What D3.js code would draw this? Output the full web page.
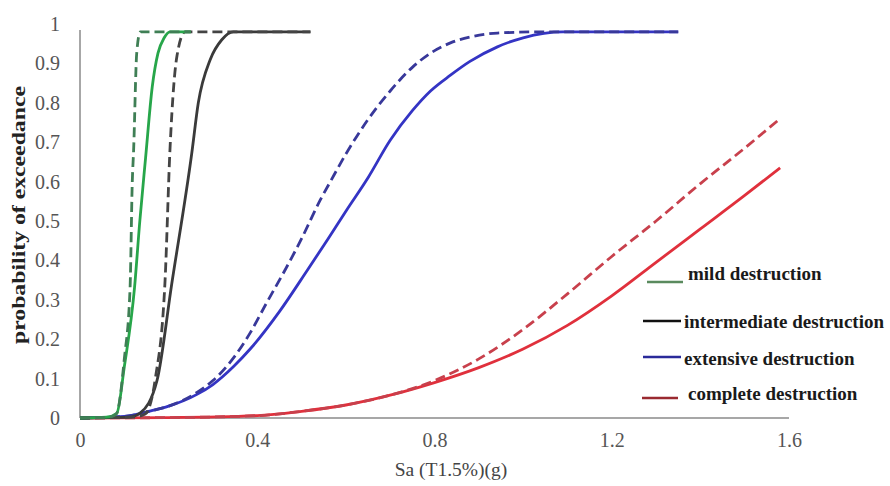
<!DOCTYPE html>
<html>
<head>
<meta charset="utf-8">
<script src="https://cdn.jsdelivr.net/npm/d3@7"></script>
<style>
html,body{margin:0;padding:0;background:#fff;}
svg{display:block;}
</style>
</head>
<body>
<svg id="chart" width="890" height="486"></svg>
<script>
// ---- data ----
const xTickValues = [0, 0.4, 0.8, 1.2, 1.6];
const xTickLabels = ["0", "0.4", "0.8", "1.2", "1.6"];
const yTickValues = [0, 0.1, 0.2, 0.3, 0.4, 0.5, 0.6, 0.7, 0.8, 0.9, 1];
const yTickLabels = ["0", "0.1", "0.2", "0.3", "0.4", "0.5", "0.6", "0.7", "0.8", "0.9", "1"];

const mildDashedX = [0, 0.06, 0.075, 0.083, 0.1, 0.113, 0.118, 0.121, 0.128, 0.136, 0.25];
const mildDashedP = [0, 0.002, 0.005, 0.012, 0.15, 0.33, 0.6, 0.68, 0.926, 0.98, 0.98];
const mildSolidX = [0, 0.06, 0.083, 0.1, 0.123, 0.135, 0.148, 0.163, 0.176, 0.19, 0.203, 0.25];
const mildSolidP = [0, 0.002, 0.012, 0.13, 0.33, 0.5, 0.66, 0.84, 0.926, 0.965, 0.98, 0.98];

const interDashedX = [0, 0.12, 0.147, 0.17, 0.192, 0.203, 0.212, 0.219, 0.237, 0.52];
const interDashedP = [0, 0.002, 0.01, 0.1, 0.35, 0.68, 0.85, 0.92, 0.98, 0.98];
const interSolidX = [0, 0.11, 0.136, 0.174, 0.207, 0.252, 0.267, 0.294, 0.32, 0.346, 0.52];
const interSolidP = [0, 0.002, 0.013, 0.096, 0.34, 0.67, 0.8, 0.91, 0.96, 0.98, 0.98];

const extDashedX = [0, 0.1, 0.16, 0.2, 0.264, 0.3, 0.346, 0.384, 0.42, 0.46, 0.5, 0.542, 0.565, 0.6, 0.649, 0.7, 0.75, 0.791, 0.836, 0.88, 0.942, 1.04, 1.35];
const extDashedP = [0, 0.004, 0.018, 0.03, 0.065, 0.095, 0.152, 0.216, 0.29, 0.37, 0.455, 0.553, 0.6, 0.67, 0.756, 0.83, 0.89, 0.926, 0.952, 0.967, 0.977, 0.98, 0.98];
const extSolidX = [0, 0.1, 0.16, 0.2, 0.264, 0.3, 0.346, 0.384, 0.45, 0.513, 0.56, 0.6, 0.65, 0.7, 0.75, 0.791, 0.836, 0.88, 0.942, 1.0, 1.09, 1.35];
const extSolidP = [0, 0.004, 0.018, 0.03, 0.06, 0.085, 0.13, 0.175, 0.27, 0.375, 0.455, 0.525, 0.61, 0.705, 0.78, 0.83, 0.87, 0.905, 0.942, 0.965, 0.98, 0.98];

const compX = [0, 0.2, 0.4, 0.5, 0.6, 0.7, 0.8, 0.9, 1.0, 1.1, 1.2, 1.3, 1.4, 1.5, 1.58];
const compDashedP = [0, 0.001, 0.006, 0.017, 0.033, 0.058, 0.095, 0.15, 0.225, 0.315, 0.41, 0.50, 0.595, 0.685, 0.76];
const compSolidP = [0, 0.001, 0.006, 0.017, 0.033, 0.058, 0.09, 0.128, 0.175, 0.235, 0.31, 0.395, 0.48, 0.565, 0.635];

const legendLabels = ["mild destruction", "intermediate destruction", "extensive destruction", "complete destruction"];
const legendColors = ["#5a8a5e", "#111111", "#2a2a9a", "#9a2a30"];

const xTitle = "Sa (T1.5%)(g)";
const yTitle = "probability of exceedance";

// ---- drawing ----
const svg = d3.select("#chart");
const x = d3.scaleLinear().domain([0, 1.6]).range([80, 789]);
const y = d3.scaleLinear().domain([0, 1]).range([418, 24]);

const serif = "'Liberation Serif', 'Times New Roman', 'DejaVu Serif', serif";

// axis lines
svg.append("line").attr("x1", x(0)).attr("x2", x(0)).attr("y1", 30).attr("y2", y(0))
  .attr("stroke", "#8a8a8a").attr("stroke-width", 1.5);
svg.append("line").attr("x1", x(0)).attr("x2", x(1.6)).attr("y1", y(0)).attr("y2", y(0))
  .attr("stroke", "#8a8a8a").attr("stroke-width", 1.5);

const xAxis = d3.axisBottom(x).tickValues(xTickValues).tickSize(0).tickPadding(15)
  .tickFormat((d, i) => xTickLabels[i]);
const gx = svg.append("g").attr("transform", `translate(0,${y(0)})`).call(xAxis);
gx.select(".domain").remove();
gx.attr("font-family", serif).attr("font-size", 20);
gx.selectAll("text").attr("fill", "#555");

const yAxis = d3.axisLeft(y).tickValues(yTickValues).tickSize(0).tickPadding(20)
  .tickFormat((d, i) => yTickLabels[i]);
const gy = svg.append("g").attr("transform", `translate(${x(0)},0)`).call(yAxis);
gy.select(".domain").remove();
gy.attr("font-family", serif).attr("font-size", 20);
gy.selectAll("text").attr("fill", "#555");

// titles
svg.append("text").attr("x", 451).attr("y", 476).attr("text-anchor", "middle")
  .attr("font-family", serif).attr("font-size", 19.5).attr("fill", "#444").text(xTitle);
svg.append("text").attr("transform", "translate(25,215) rotate(-90)").attr("text-anchor", "middle")
  .attr("font-family", serif).attr("font-size", 18).attr("font-weight", "bold").attr("fill", "#222")
  .attr("textLength", 258).attr("lengthAdjust", "spacingAndGlyphs")
  .text(yTitle);

// curves
const line = d3.line().x(d => x(d[0])).y(d => y(d[1])).curve(d3.curveMonotoneX);
function series(xs, ps, color, dashed, width) {
  const pts = xs.map((v, i) => [v, ps[i]]);
  svg.append("path").datum(pts).attr("d", line)
    .attr("fill", "none").attr("stroke", color).attr("stroke-width", width || 2.8)
    .attr("stroke-linejoin", "round")
    .attr("stroke-dasharray", dashed ? "10,5" : null);
}

series(compX, compSolidP, "#e0303c", false);
series(compX, compDashedP, "#c8404c", true);
series(extSolidX, extSolidP, "#3434c4", false);
series(extDashedX, extDashedP, "#38389a", true);
series(interSolidX, interSolidP, "#3a3a3a", false);
series(interDashedX, interDashedP, "#444444", true);
series(mildSolidX, mildSolidP, "#27a64a", false);
series(mildDashedX, mildDashedP, "#3f7f55", true);

// legend
const legendLineY = [282, 321, 357, 398];
const legendTextY = [276, 324, 361, 396];
const legendLineX = [[647, 683], [643, 681], [643, 681], [642, 678]];
const legendTextX = [688, 684, 684, 688];
legendLabels.forEach((lab, i) => {
  svg.append("line").attr("x1", legendLineX[i][0]).attr("x2", legendLineX[i][1])
    .attr("y1", legendLineY[i]).attr("y2", legendLineY[i])
    .attr("stroke", legendColors[i]).attr("stroke-width", 2.5);
  svg.append("text").attr("x", legendTextX[i]).attr("y", legendTextY[i])
    .attr("dominant-baseline", "middle")
    .attr("font-family", serif).attr("font-size", 19).attr("font-weight", "bold").attr("fill", "#1a1a1a")
    .text(lab);
});
</script>
</body>
</html>
